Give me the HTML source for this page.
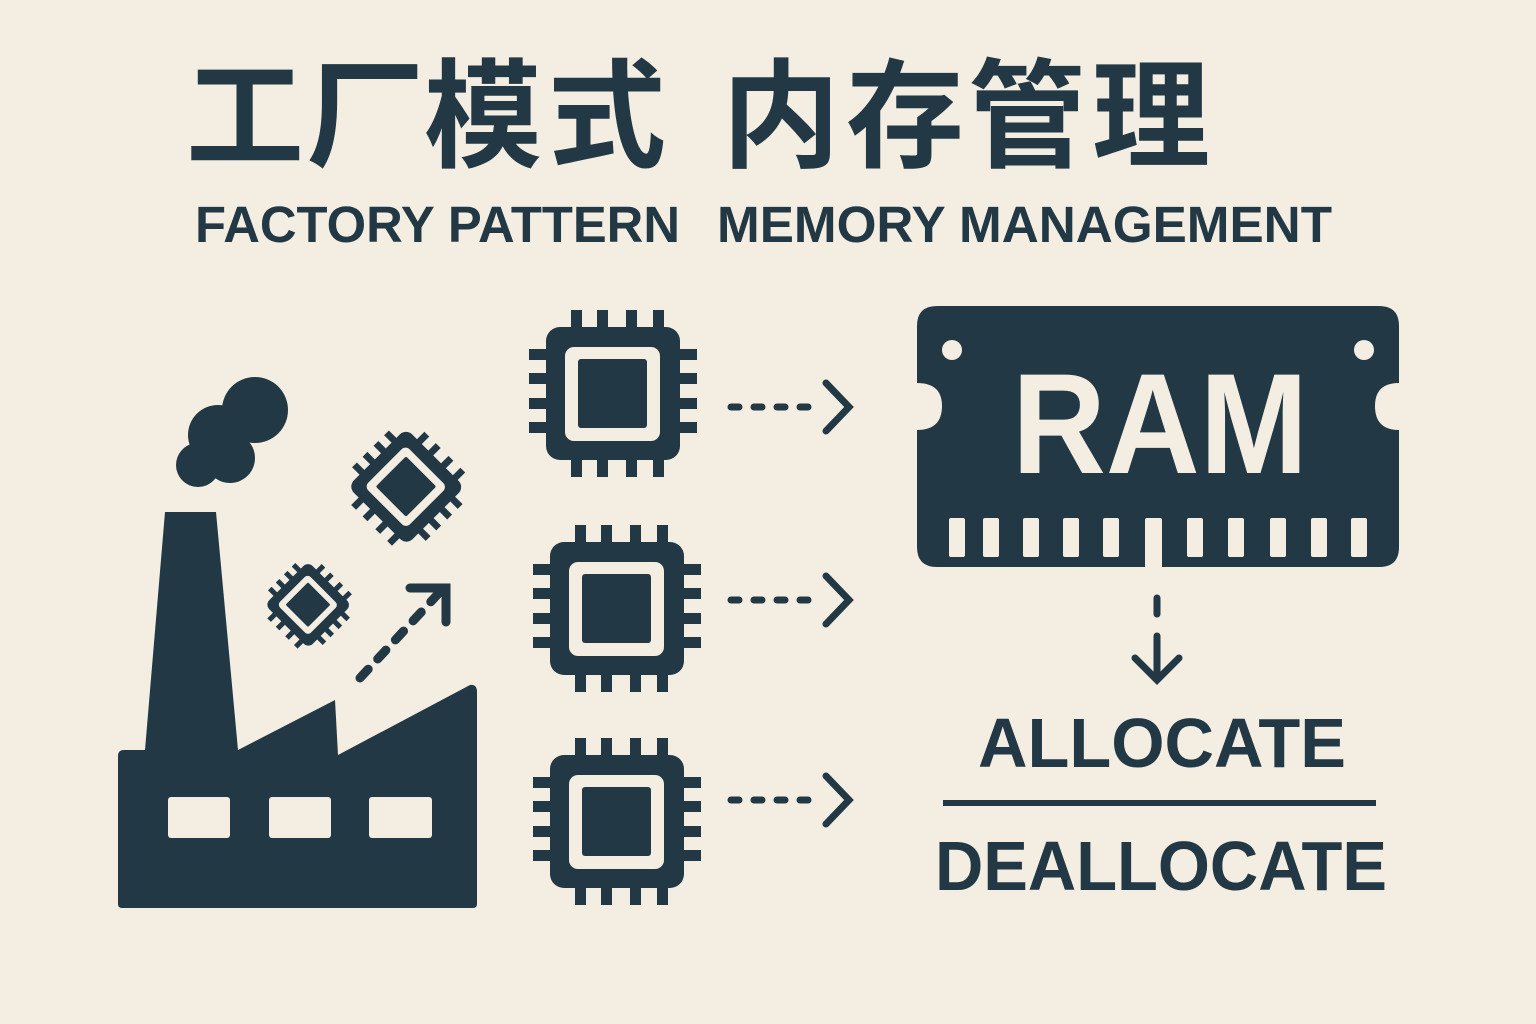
<!DOCTYPE html>
<html><head><meta charset="utf-8"><style>
html,body{margin:0;padding:0;background:#f3ede2;}
svg{display:block}
</style></head><body>
<svg width="1536" height="1024" viewBox="0 0 1536 1024" xmlns="http://www.w3.org/2000/svg">
<rect width="1536" height="1024" fill="#f3ede2"/>
<defs>
<g id="chip">
  <rect x="0" y="0" width="134" height="133" rx="14" fill="#223845"/>
  <g fill="#223845">
    <rect x="25" y="-17" width="11" height="20"/><rect x="51" y="-17" width="11" height="20"/><rect x="80" y="-17" width="11" height="20"/><rect x="107" y="-17" width="11" height="20"/>
    <rect x="25" y="130" width="11" height="20"/><rect x="51" y="130" width="11" height="20"/><rect x="80" y="130" width="11" height="20"/><rect x="107" y="130" width="11" height="20"/>
    <rect x="-17" y="22" width="20" height="11"/><rect x="-17" y="46" width="20" height="11"/><rect x="-17" y="71" width="20" height="11"/><rect x="-17" y="95" width="20" height="11"/>
    <rect x="131" y="22" width="20" height="11"/><rect x="131" y="46" width="20" height="11"/><rect x="131" y="71" width="20" height="11"/><rect x="131" y="95" width="20" height="11"/>
  </g>
  <rect x="19" y="20" width="95" height="94" rx="9" fill="#f3ede2"/>
  <rect x="32" y="32" width="69" height="69" rx="3" fill="#223845"/>
</g>
</defs>

<!-- Title -->
<g font-family="'Noto Sans CJK SC','WenQuanYi Zen Hei',sans-serif" font-weight="700" font-size="118" fill="#223845">
<text x="186" y="158">工</text><text x="306" y="158">厂</text><text x="424" y="158">模</text><text x="548" y="158">式</text>
<text x="722" y="158">内</text><text x="846" y="158">存</text><text x="968" y="158">管</text><text x="1092" y="158">理</text>
</g>
<g font-family="'Liberation Sans',sans-serif" font-weight="700" font-size="51" fill="#223845">
<text x="195" y="242" textLength="485" lengthAdjust="spacingAndGlyphs">FACTORY PATTERN</text>
<text x="717" y="242" textLength="615" lengthAdjust="spacingAndGlyphs">MEMORY MANAGEMENT</text>
</g>

<!-- Factory -->
<g fill="#223845">
<circle cx="255" cy="410" r="33"/><circle cx="218" cy="435" r="30"/><circle cx="198" cy="465" r="22"/><circle cx="230" cy="458" r="25"/>
<path d="M165 512 L216 512 L238 750 L335 700 L338 755 L470 685 Q477 684 477 692 L477 904 Q477 908 473 908 L122 908 Q118 908 118 904 L118 756 Q118 750 124 750 L145 750 Z"/>
</g>
<g fill="#f3ede2">
<rect x="168" y="797" width="62" height="41" rx="3"/><rect x="269" y="797" width="62" height="41" rx="3"/><rect x="369" y="797" width="63" height="41" rx="3"/>
</g>
<use href="#chip" transform="translate(406 487) rotate(45) scale(0.62) translate(-67 -67)"/>
<use href="#chip" transform="translate(308 605) rotate(45) scale(0.46) translate(-67 -67)"/>
<g stroke="#223845" stroke-width="9" stroke-linecap="round" fill="none">
<path d="M360 678 L438 594" stroke-dasharray="12 14"/>
<path d="M410 588 L446 588 L446 622"/>
</g>

<!-- chips -->
<use href="#chip" x="546" y="327"/>
<use href="#chip" x="550" y="542"/>
<use href="#chip" x="550" y="755"/>

<!-- arrows -->
<g stroke="#223845" stroke-width="7" stroke-linecap="round" fill="none">
<path d="M731 407 L812 407" stroke-dasharray="8 15"/><path d="M826 383 L849 407 L826 431"/>
<path d="M731 600 L812 600" stroke-dasharray="8 15"/><path d="M826 576 L849 600 L826 624"/>
<path d="M731 800 L812 800" stroke-dasharray="8 15"/><path d="M826 776 L849 800 L826 824"/>
<path d="M1157 598 L1157 614"/><path d="M1157 636 L1157 678"/><path d="M1135 658 L1157 680 L1179 658"/>
</g>

<!-- RAM -->
<path fill="#223845" d="M937 306 L1379 306 Q1399 306 1399 326 L1399 383 Q1375 383 1375 406 Q1375 430 1399 430 L1399 547 Q1399 567 1379 567 L937 567 Q917 567 917 547 L917 430 Q942 430 942 406 Q942 383 917 383 L917 326 Q917 306 937 306 Z"/>
<circle cx="952" cy="350" r="10" fill="#f3ede2"/><circle cx="1364" cy="350" r="10" fill="#f3ede2"/>
<text x="1160" y="473" text-anchor="middle" font-family="'Liberation Sans',sans-serif" font-weight="700" font-size="143" fill="#f3ede2" textLength="296" lengthAdjust="spacingAndGlyphs">RAM</text>
<g fill="#f3ede2">
<rect x="949" y="518" width="16" height="39" rx="2"/><rect x="983" y="518" width="16" height="39" rx="2"/><rect x="1023" y="518" width="16" height="39" rx="2"/><rect x="1063" y="518" width="16" height="39" rx="2"/><rect x="1103" y="518" width="16" height="39" rx="2"/>
<rect x="1145" y="518" width="17" height="50" rx="2"/>
<rect x="1187" y="518" width="16" height="39" rx="2"/><rect x="1228" y="518" width="16" height="39" rx="2"/><rect x="1270" y="518" width="16" height="39" rx="2"/><rect x="1311" y="518" width="16" height="39" rx="2"/><rect x="1351" y="518" width="16" height="39" rx="2"/>
</g>

<!-- allocate -->
<g font-family="'Liberation Sans',sans-serif" font-weight="700" font-size="70" fill="#223845">
<text x="978" y="767" textLength="368" lengthAdjust="spacingAndGlyphs">ALLOCATE</text>
<text x="935" y="890" textLength="452" lengthAdjust="spacingAndGlyphs">DEALLOCATE</text>
</g>
<rect x="943" y="800" width="433" height="6" fill="#223845"/>
</svg>
</body></html>
